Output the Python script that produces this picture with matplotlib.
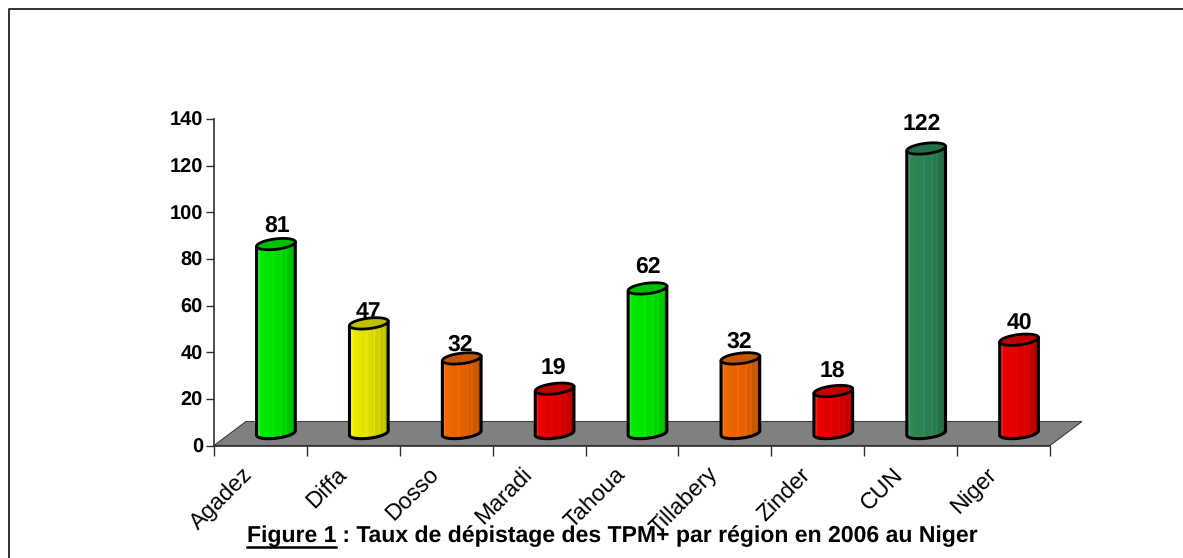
import numpy as np
import matplotlib.pyplot as plt
from matplotlib.colors import to_rgb
from matplotlib.patches import Polygon

W, H = 1183, 558

# Data
regions = ["Agadez", "Diffa", "Dosso", "Maradi", "Tahoua", "Tillabery", "Zinder", "CUN", "Niger"]
values = [81, 47, 32, 19, 62, 32, 18, 122, 40]
colors = ["#00f000", "#f0f000", "#f56a00", "#ee0000", "#00f000", "#f56a00", "#ee0000", "#2e8b57", "#ee0000"]
yticks = [0, 20, 40, 60, 80, 100, 120, 140]

# gap between cap and label, label shift, in pixels
label_gap = [18.5, 11, 13.5, 21, 21.5, 16.5, 20.5, 24.5, 16.5]
label_shift = [1, 0, -1, -1, 0, -1, -1, -4, 0]

plt.rcParams["font.family"] = ["Liberation Sans", "DejaVu Sans"]
plt.rcParams["text.hinting"] = "no_hinting"
plt.rcParams["text.hinting_factor"] = 1

fig = plt.figure(figsize=(W / 100, H / 100), dpi=100, facecolor="white")

# Axes box in pixels
left, right, top, bottom = 214, 1050, 119, 445.5
ax = fig.add_axes([left / W, 1 - bottom / H, (right - left) / W, (bottom - top) / H])
ax.set_xlim(0, len(regions))
ax.set_ylim(0, 140)
ax.patch.set_alpha(0)
for s in ["top", "right"]:
    ax.spines[s].set_visible(False)
for s in ["left", "bottom"]:
    ax.spines[s].set_color("#303030")
    ax.spines[s].set_linewidth(1.2)

px_x = len(regions) / (right - left)
px_y = 140 / (bottom - top)

# Floor of the 3D chart
depth_x, depth_y = 32 * px_x, 24 * px_y
ax.add_patch(Polygon([(0, 0), (len(regions), 0), (len(regions) + depth_x, depth_y), (depth_x, depth_y)],
                     closed=True, facecolor="#808080", edgecolor="#404040", linewidth=0.8,
                     clip_on=False, zorder=1))

# Cylinders
dx = 15.5 * px_x
dy = 12.5 * px_y
half_w = 19.5 * px_x
a, b, ang = 19.5, 5.2, np.deg2rad(7)
shade = np.array([1.0, 1.06, 1.0, 0.98, 0.97, 0.96, 0.95, 0.95, 0.94, 0.94, 1.0, 0.93,
                  0.92, 0.92, 0.9, 0.97, 0.88, 0.86, 0.93, 0.84, 0.8, 0.86, 0.76, 0.72])
strips = len(shade)


def ellipse(cx, cy, t):
    ex = a * np.cos(t) * np.cos(ang) - b * np.sin(t) * np.sin(ang)
    ey = a * np.cos(t) * np.sin(ang) + b * np.sin(t) * np.cos(ang)
    return cx + ex * px_x, cy + ey * px_y


for i, (v, c) in enumerate(zip(values, colors)):
    cx = i + 0.5 + dx
    base = dy
    topv = v + dy
    rgb = np.array(to_rgb(c))
    tx, ty = ellipse(cx, topv, np.linspace(0, 2 * np.pi, 80))
    lx, ly = ellipse(cx, base, np.linspace(0, -np.pi, 40))
    outline = [(cx + a * np.cos(ang) * px_x, topv + a * np.sin(ang) * px_y),
               (cx - a * np.cos(ang) * px_x, topv - a * np.sin(ang) * px_y)]
    outline += list(zip(lx[::-1], ly[::-1]))
    ax.add_patch(Polygon(outline, closed=True, facecolor="none", edgecolor="black", linewidth=2.2,
                         joinstyle="round", zorder=4))
    clip = Polygon(outline, closed=True, transform=ax.transData)
    edges = np.linspace(cx - half_w, cx + half_w, strips + 1)
    for k in range(strips):
        col = rgb * shade[k]
        if shade[k] > 1:
            col = rgb + (1 - rgb) * 0.15
        col = np.clip(col, 0, 1)
        r = ax.bar(edges[k], topv + 5 * px_y, width=edges[k + 1] - edges[k], align="edge", color=col,
                   edgecolor=col, linewidth=0.3, zorder=3)[0]
        r.set_clip_path(clip)
    # darker top cap
    ax.add_patch(Polygon(np.column_stack([tx, ty]), closed=True, facecolor=rgb * 0.8,
                         edgecolor="black", linewidth=2.0, zorder=5))
    ax.text(cx + label_shift[i] * px_x, topv + label_gap[i] * px_y, str(v), ha="center", va="center",
            fontsize=16.5, fontweight="bold", color="black", zorder=6)

# Ticks
ax.set_yticks(yticks)
ax.set_yticklabels([str(t) for t in yticks], fontsize=14.5, fontweight="bold")
ax.tick_params(axis="y", length=6, width=1, color="#303030", pad=2)
ax.set_xticks(np.arange(len(regions) + 1))
ax.set_xticklabels([])
ax.tick_params(axis="x", length=7, width=1, color="#303030")
for i, name in enumerate(regions):
    ax.annotate(name, xy=(i + 0.5, 0), xytext=(-13, -13), textcoords="offset points", rotation=45,
                rotation_mode="anchor", ha="right", va="top", fontsize=16.5, annotation_clip=False,
                zorder=7)

# Frame: only top and left edges are visible in the crop
fig.add_artist(plt.Line2D([8.5, 8.5, W], [0, H - 8.5, H - 8.5], transform=None, color="#222222", linewidth=1.3))

# Caption
cap1 = fig.text(247 / W, 1 - 542 / H, "Figure 1", fontsize=16.6, fontweight="bold", ha="left", va="baseline")
fig.canvas.draw()
bb = cap1.get_window_extent()
fig.add_artist(plt.Line2D([bb.x0, bb.x1], [H - 547, H - 547], transform=None, color="black", linewidth=1.8))
fig.text(bb.x1 / W, 1 - 542 / H, " : Taux de dépistage des TPM+ par région en 2006 au Niger", fontsize=16.6,
         fontweight="bold", ha="left", va="baseline")

fig.savefig("out.png", dpi=100)
